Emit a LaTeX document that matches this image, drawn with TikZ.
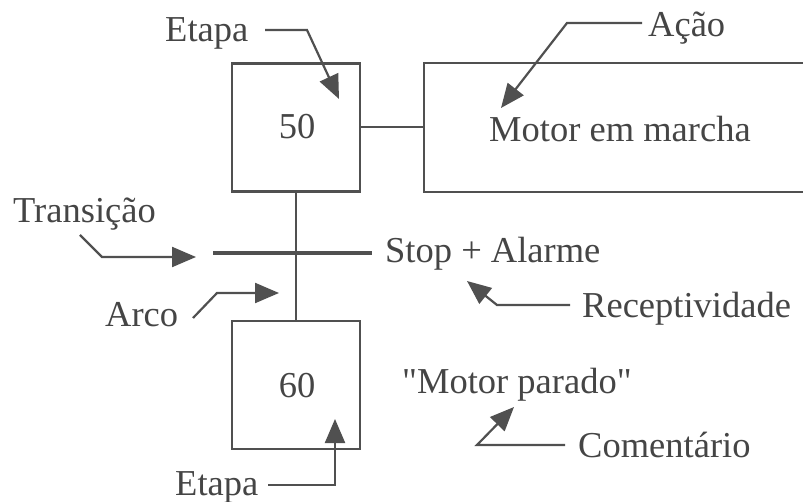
\documentclass[tikz,border=0pt]{standalone}
\usepackage{fontspec}
\setmainfont{Liberation Serif}
\usetikzlibrary{arrows.meta}
\definecolor{ink}{HTML}{505050}
\definecolor{txt}{HTML}{454545}
\tikzset{
  lbl/.style={inner sep=0pt, text=txt, font=\fontsize{36.5}{40}\selectfont},
  stepbox/.style={draw=ink, line width=2.4pt, minimum width=128pt, minimum height=128pt, inner sep=0pt},
  ln/.style={draw=ink, line width=2.2pt},
  pointer/.style={draw=ink, line width=2.2pt, -{Triangle[length=24pt,width=20pt]}},
}
\begin{document}
\begin{tikzpicture}[x=1pt,y=-1pt]
\useasboundingbox (0,0) rectangle (803,502);
% steps
\node[stepbox] (s50) at (296,127.5) {};
\node[stepbox] (s60) at (296,385) {};
\node[lbl, anchor=base] (n50) at (297,139) {50};
\node[lbl, anchor=base] (n60) at (297,397) {60};
% action box
\coordinate (actnw) at (424,63);
\coordinate (actse) at (830,192);
\draw[ln, line width=2.4pt] (actnw) rectangle (actse);
\coordinate (actw) at (424,127);
\draw[ln] (s50.east |- actw) -- (actw);
\node[lbl, anchor=base west] (motor) at (489,142) {Motor em marcha};
% arc and transition
\draw[ln] (s50.south) -- (s60.north);
\coordinate (trl) at (213,253);
\coordinate (trr) at (372,253);
\draw[draw=ink, line width=4.5pt] (trl) -- (trr);
\node[lbl, anchor=base west] (recp) at (385,263) {Stop + Alarme};
% labels
\node[lbl, anchor=base west] (etapa1) at (165,42) {Etapa};
\node[lbl, anchor=base west] (acao) at (648,37) {Ação};
\node[lbl, anchor=base west] (trans) at (13,223) {Transição};
\node[lbl, anchor=base west] (arco) at (105,327) {Arco};
\node[lbl, anchor=base west] (recept) at (582,318) {Receptividade};
\node[lbl, anchor=base west] (coment) at (402,393) {\textquotedbl Motor parado\textquotedbl};
\node[lbl, anchor=base west] (comlab) at (578,457) {Comentário};
\node[lbl, anchor=base west] (etapa2) at (175,495) {Etapa};
% pointers
\coordinate (e1a) at (265,30);
\coordinate (e1b) at (307,30);
\coordinate (e1t) at (339,99);
\draw[pointer] (e1a) -- (e1b) -- (e1t);
\coordinate (aa) at (642,23);
\coordinate (ab) at (567,23);
\coordinate (at) at (501,108);
\draw[pointer] (aa) -- (ab) -- (at);
\coordinate (ta) at (80,235);
\coordinate (tb) at (102,257);
\coordinate (tt) at (196,257);
\draw[pointer] (ta) -- (tb) -- (tt);
\coordinate (ara) at (193,318);
\coordinate (arb) at (217,293);
\coordinate (art) at (279,293);
\draw[pointer] (ara) -- (arb) -- (art);
\coordinate (ra) at (570,305);
\coordinate (rb) at (497,305);
\coordinate (rt) at (467,281);
\draw[pointer] (ra) -- (rb) -- (rt);
\coordinate (ca) at (565,445);
\coordinate (cb) at (477,445);
\coordinate (ct) at (514,407);
\draw[pointer] (ca) -- (cb) -- (ct);
\coordinate (ea) at (268,485);
\coordinate (eb) at (335,485);
\coordinate (et) at (335,419);
\draw[pointer] (ea) -- (eb) -- (et);
\end{tikzpicture}
\end{document}
